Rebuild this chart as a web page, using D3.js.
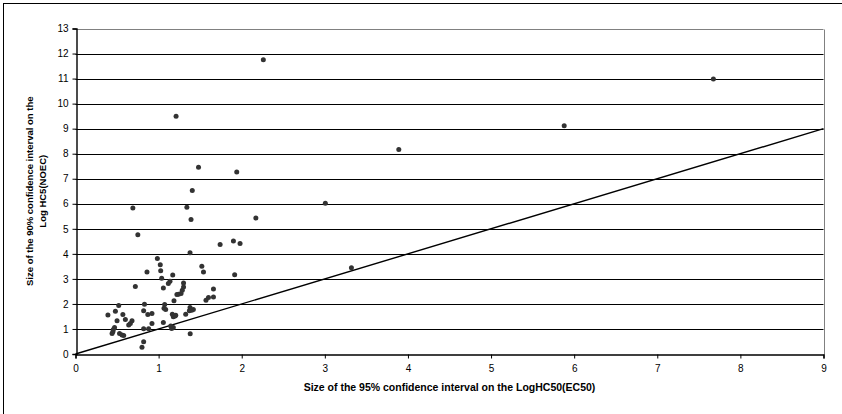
<!DOCTYPE html>
<html>
<head>
<meta charset="utf-8">
<script src="https://cdn.jsdelivr.net/npm/d3@7"></script>
<style>
  body { margin: 0; background: #fff; }
  text { font-family: "Liberation Sans", Arial, sans-serif; }
</style>
</head>
<body>
<script>
// data: x = 95% CI on LogHC50(EC50), y = 90% CI on Log HC5(NOEC)
var xValues = [
  0.39, 0.48, 0.52, 0.50, 0.57, 0.60, 0.68, 0.66, 0.64, 0.47, 0.455, 0.45, 0.44, 0.53, 0.56, 0.58,
  0.72, 0.69, 0.75,
  0.83, 0.82, 0.87, 0.92, 0.92, 0.82, 0.88, 0.82, 0.80, 0.86, 0.985, 1.02, 1.025, 1.037,
  1.057, 1.073, 1.085, 1.065, 1.057, 1.137, 1.117, 1.17, 1.185, 1.165, 1.206, 1.177, 1.197,
  1.146, 1.177, 1.157, 1.30, 1.30, 1.285, 1.27, 1.24, 1.22, 1.326, 1.378, 1.398, 1.37, 1.418,
  1.38, 1.34, 1.405, 1.39, 1.378, 1.48, 1.21,
  1.52, 1.54, 1.57, 1.60, 1.66, 1.66, 1.74, 1.90, 1.98, 1.915, 1.94, 2.17, 2.26,
  3.006, 3.32, 3.89, 5.88, 7.675
];
var yValues = [
  1.56, 1.71, 1.94, 1.33, 1.58, 1.38, 1.33, 1.22, 1.16, 1.06, 0.98, 0.89, 0.82, 0.82, 0.76, 0.74,
  2.70, 5.83, 4.76,
  1.99, 1.73, 1.58, 1.62, 1.22, 1.01, 1.01, 0.49, 0.27, 3.27, 3.81, 3.56, 3.32, 3.03,
  2.64, 1.98, 1.78, 1.83, 1.26, 2.91, 2.82, 3.16, 2.13, 1.59, 1.55, 1.49, 1.52,
  1.12, 1.06, 1.02, 2.84, 2.68, 2.55, 2.42, 2.39, 2.38, 1.59, 1.86, 1.75, 1.73, 1.78,
  0.81, 5.86, 6.53, 5.37, 4.04, 7.46, 9.50,
  3.50, 3.27, 2.15, 2.26, 2.60, 2.28, 4.37, 4.51, 4.41, 3.17, 7.27, 5.43, 11.75,
  6.02, 3.44, 8.17, 9.12, 10.98
];
var xTicks = [0, 1, 2, 3, 4, 5, 6, 7, 8, 9];
var yTicks = [0, 1, 2, 3, 4, 5, 6, 7, 8, 9, 10, 11, 12, 13];
var lineEnds = [0, 9]; // the 1:1 line

var points = xValues.map(function(d, i) { return {x: d, y: yValues[i]}; });

var W = 842, H = 414;
var plotLeft = 75.5, plotRight = 823.5, plotTop = 28.5, plotBottom = 354;

var svg = d3.select("body").append("svg")
  .attr("width", W)
  .attr("height", H);

// outer chart border (only left and top fall inside the picture)
svg.append("rect")
  .attr("x", 3.5).attr("y", 3.5)
  .attr("width", W + 10).attr("height", H + 10)
  .attr("fill", "#fff")
  .attr("stroke", "#000")
  .attr("stroke-width", 1);

var x = d3.scaleLinear().domain([0, 9]).range([plotLeft, plotRight]);
var y = d3.scaleLinear().domain([0, 13]).range([plotBottom, plotTop]);

// gridlines
svg.append("g")
  .selectAll("line")
  .data(yTicks.slice(1))
  .enter()
  .append("line")
  .attr("x1", plotLeft).attr("x2", plotRight)
  .attr("y1", function(d) { return Math.round(y(d)) + 0.5; })
  .attr("y2", function(d) { return Math.round(y(d)) + 0.5; })
  .attr("stroke", function(d) { return d == 13 ? "#808080" : "#000"; })
  .attr("stroke-width", 1);

// plot area right border
svg.append("line")
  .attr("x1", Math.round(plotRight) + 0.5).attr("x2", Math.round(plotRight) + 0.5)
  .attr("y1", Math.round(plotTop) + 0.5).attr("y2", Math.round(plotBottom) + 0.5)
  .attr("stroke", "#808080");

// axes
var xAxis = d3.axisBottom(x).tickValues(xTicks).tickSize(4).tickPadding(6);
var yAxis = d3.axisLeft(y).tickValues(yTicks).tickSize(4).tickPadding(4);

var gx = svg.append("g")
  .attr("transform", "translate(0," + (Math.round(plotBottom) + 0.5) + ")")
  .call(xAxis);
var gy = svg.append("g")
  .attr("transform", "translate(" + (Math.round(plotLeft) + 0.5) + ",0)")
  .call(yAxis);

[gx, gy].forEach(function(g) {
  g.selectAll("path").attr("stroke", "#000").attr("stroke-width", 1.4);
  g.selectAll("line").attr("stroke", "#000");
  g.selectAll("text")
    .style("font-family", "'Liberation Sans', Arial, sans-serif")
    .style("font-size", "10px")
    .attr("fill", "#000");
});

// 1:1 line
svg.append("line")
  .attr("x1", x(lineEnds[0])).attr("y1", y(lineEnds[0]))
  .attr("x2", x(lineEnds[1])).attr("y2", y(lineEnds[1]))
  .attr("stroke", "#000")
  .attr("stroke-width", 1.4);

// points
svg.append("g")
  .selectAll("circle")
  .data(points)
  .enter()
  .append("circle")
  .attr("cx", function(d) { return x(d.x); })
  .attr("cy", function(d) { return y(d.y); })
  .attr("r", 2.5)
  .attr("fill", "#333");

// axis titles
svg.append("text")
  .attr("x", (plotLeft + plotRight) / 2)
  .attr("y", 391)
  .style("text-anchor", "middle")
  .style("font-size", "10.5px")
  .style("font-weight", "bold")
  .text("Size of the 95% confidence interval on the LogHC50(EC50)");

var yTitle = svg.append("text")
  .attr("transform", "translate(33," + ((plotTop + plotBottom) / 2) + ") rotate(-90)")
  .style("text-anchor", "middle")
  .style("font-size", "9.5px")
  .style("font-weight", "bold");
yTitle.append("tspan")
  .attr("x", 0).attr("y", 0)
  .text("Size of the 90% confidence interval on the");
yTitle.append("tspan")
  .attr("x", 0).attr("y", 12.5)
  .text("Log HC5(NOEC)");
</script>
</body>
</html>
